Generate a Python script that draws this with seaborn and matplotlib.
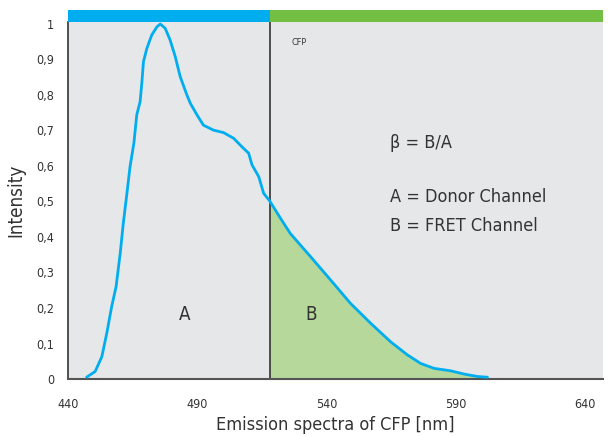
import matplotlib
matplotlib.use("Agg")
import matplotlib.pyplot as plt
from matplotlib import font_manager as fm
import seaborn as sns
import pandas as pd

# Data
wavelength = [447.2, 450.5, 453.1, 455.0, 456.9, 458.6, 460.2, 461.4, 462.8, 464.0, 465.5,
              466.6, 467.9, 468.6, 469.2, 470.5, 472.4, 474.4, 475.7, 477.6, 479.5, 481.5,
              483.4, 486.0, 487.3, 489.9, 492.4, 496.3, 500.2, 504.1, 507.3, 509.9, 511.2,
              513.8, 515.7, 518.0, 522.2, 526.0, 533.8, 541.6, 549.3, 557.1, 564.8, 571.3,
              576.4, 581.6, 588.1, 593.2, 598.4, 602.3]
intensity = [0.005, 0.021, 0.063, 0.129, 0.204, 0.26, 0.354, 0.439, 0.523, 0.598, 0.665,
             0.744, 0.781, 0.837, 0.894, 0.931, 0.969, 0.992, 1.0, 0.988, 0.955, 0.908,
             0.852, 0.80, 0.777, 0.744, 0.715, 0.701, 0.694, 0.678, 0.654, 0.636, 0.603,
             0.57, 0.523, 0.502, 0.453, 0.41, 0.345, 0.279, 0.213, 0.157, 0.105, 0.068,
             0.044, 0.030, 0.023, 0.014, 0.007, 0.005]
split_nm = 518
x_ticks = [440, 490, 540, 590, 640]
y_ticks = [0, 0.1, 0.2, 0.3, 0.4, 0.5, 0.6, 0.7, 0.8, 0.9, 1.0]
y_tick_labels = ["0", "0,1", "0,2", "0,3", "0,4", "0,5", "0,6", "0,7", "0,8", "0,9", "1"]

df = pd.DataFrame({"wavelength": wavelength, "intensity": intensity})

sns.set_style("white")
plt.rcParams['font.family'] = ['DejaVu Sans']

# look for a condensed / narrow sans face
cond = None
for f in fm.fontManager.ttflist:
    n = (f.fname + " " + f.name).lower()
    if ("condensed" in n or "narrow" in n) and "bold" not in n and "oblique" not in n \
            and "italic" not in n and "mono" not in n and "serif" not in n.replace("sans", ""):
        cond = f.fname
        break
def fp(size):
    if cond:
        return fm.FontProperties(fname=cond, size=size)
    return fm.FontProperties(family="DejaVu Sans", size=size * 0.88)

BLUE = "#00AEEF"
GREEN = "#72BF44"
LIGHTGREEN = "#B6D99B"
BG = "#E6E7E8"
DARK = "#333333"

fig = plt.figure(figsize=(6.09, 4.36), dpi=100)
ax = fig.add_axes([68/609, 1-379/436, (603-68)/609, (379-22)/436])
ax.set_facecolor(BG)

xmin, xmax = 440, 647
ax.set_xlim(xmin, xmax)
ax.set_ylim(0, (379-22)/355)

right = df[df.wavelength >= split_nm]
ax.fill_between(right.wavelength, 0, right.intensity, color=LIGHTGREEN, lw=0, zorder=1)
ax.axvline(split_nm, color=DARK, lw=1.2, zorder=2)
sns.lineplot(data=df, x="wavelength", y="intensity", color=BLUE, lw=2.0, ax=ax, zorder=3,
             solid_joinstyle="round", solid_capstyle="round")

for s in ["top", "right"]:
    ax.spines[s].set_visible(False)
ax.spines["left"].set_color(DARK)
ax.spines["left"].set_linewidth(1.2)
ax.spines["bottom"].set_color("#555555")
ax.spines["bottom"].set_linewidth(1.5)

ax.set_xticks(x_ticks)
ax.set_yticks(y_ticks)
ax.set_yticklabels(y_tick_labels)
ax.tick_params(axis="both", direction="out", length=6, width=1.2, color=DARK,
               labelcolor=DARK, pad=4)
ax.tick_params(axis="x", pad=8)
for lab in ax.get_xticklabels() + ax.get_yticklabels():
    lab.set_fontproperties(fp(9))
ax.set_xlabel("Emission spectra of CFP [nm]", fontproperties=fp(13), color=DARK, labelpad=3)
ax.set_ylabel("Intensity", fontproperties=fp(13.5), color=DARK, labelpad=8)

ax.text(526.4, 0.949, "CFP", fontproperties=fp(6.5), color=DARK, va="center")
ax.text(564.5, 0.665, "β = B/A", fontproperties=fp(13), color=DARK, va="center")
ax.text(564.5, 0.513, "A = Donor Channel", fontproperties=fp(13), color=DARK, va="center")
ax.text(564.5, 0.43, "B = FRET Channel", fontproperties=fp(13), color=DARK, va="center")
ax.text(485.3, 0.183, "A", fontproperties=fp(13.5), color=DARK, ha="center", va="center")
ax.text(534.2, 0.183, "B", fontproperties=fp(13.5), color=DARK, ha="center", va="center")

# top colour bar
bar = fig.add_axes([68/609, 1-22/436, (603-68)/609, 12/436], sharex=ax)
bar.axvspan(xmin, split_nm, color=BLUE, lw=0)
bar.axvspan(split_nm, xmax, color=GREEN, lw=0)
bar.set_ylim(0, 1)
bar.axis("off")
ax.set_xlim(xmin, xmax)

fig.savefig("out.png", dpi=100)
